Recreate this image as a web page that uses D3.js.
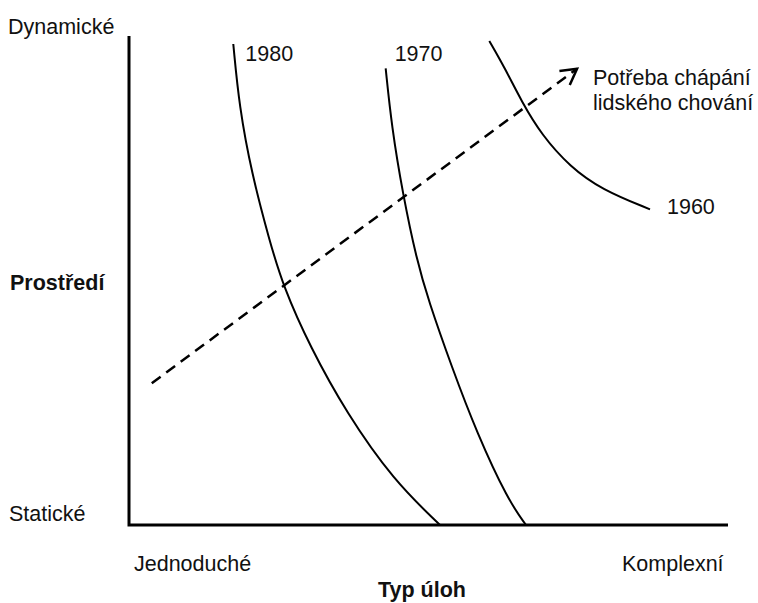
<!DOCTYPE html>
<html lang="cs">
<head>
<meta charset="UTF-8">
<title>Prostředí a typ úloh</title>
<script src="https://cdnjs.cloudflare.com/ajax/libs/d3/7.8.5/d3.min.js"></script>
<style>
  body { margin: 0; background: #fff; }
  text { font-family: "Liberation Sans", Arial, sans-serif; font-size: 21.5px; fill: #111; }
  .bold { font-weight: bold; }
  .curve { fill: none; stroke: #000; stroke-width: 2; }
</style>
</head>
<body>
<div id="chart"></div>
<script>
var width = 758, height = 603;

// curves in abstract units: x = complexity of tasks (0..100), y = dynamism of environment (0..100)
var years = ["1980", "1970", "1960"];
var curve1980 = [[17.41, 98.36], [18.41, 85.54], [20.48, 71.92], [23.42, 58.28], [25.76, 48.73],
                 [30.22, 36.46], [36.34, 22.84], [44.12, 9.20], [51.92, 0]];
var curve1970 = [[42.85, 93.39], [43.86, 81.45], [45.69, 67.83], [48.03, 54.19], [49.97, 46.01],
                 [53.87, 32.35], [58.10, 18.75], [63.27, 5.11], [66.28, 0]];
var curve1960 = [[60.15, 98.98], [62.77, 93.39], [65.56, 86.56], [68.90, 79.75], [73.60, 73.30],
                 [78.90, 68.60], [86.98, 64.56]];
var trend = [[3.8, 29.0], [74.8, 93.3]];

var yLabels = ["Statické", "Dynamické"];
var xLabels = ["Jednoduché", "Komplexní"];

var svg = d3.select("#chart").append("svg")
    .attr("width", width)
    .attr("height", height);

var x = d3.scaleLinear().domain([0, 100]).range([129, 728]);
var y = d3.scaleLinear().domain([0, 100]).range([525, 36]);

var line = d3.line()
    .x(function(d) { return x(d[0]); })
    .y(function(d) { return y(d[1]); })
    .curve(d3.curveBasis);

// axes as plain lines
svg.append("path")
    .attr("d", "M" + x(0) + "," + y(100) + "V" + y(0) + "H" + x(100))
    .attr("fill", "none")
    .attr("stroke", "#000")
    .attr("stroke-width", 3);

svg.append("defs").append("marker")
    .attr("id", "arrow")
    .attr("markerUnits", "userSpaceOnUse")
    .attr("viewBox", "-20 -12 24 24")
    .attr("markerWidth", 24)
    .attr("markerHeight", 24)
    .attr("refX", 0)
    .attr("refY", 0)
    .attr("orient", "auto")
  .append("path")
    .attr("d", "M-15.5,-8.7L0,0L-15.5,8.7")
    .attr("fill", "none")
    .attr("stroke", "#000")
    .attr("stroke-width", 2.5);

var curves = [curve1980, curve1970, curve1960];
svg.selectAll(".curve")
    .data(curves)
    .enter().append("path")
      .attr("class", "curve")
      .attr("d", line);

svg.append("path")
    .attr("d", d3.line().x(function(d) { return x(d[0]); }).y(function(d) { return y(d[1]); })(trend))
    .attr("fill", "none")
    .attr("stroke", "#000")
    .attr("stroke-width", 2.5)
    .attr("stroke-dasharray", "11,7")
    .attr("marker-end", "url(#arrow)");

// year labels next to curve ends
svg.append("text").attr("x", x(curve1980[0][0]) + 12).attr("y", 61).text(years[0]);
svg.append("text").attr("x", x(curve1970[0][0]) + 9).attr("y", 61).text(years[1]);
svg.append("text").attr("x", x(curve1960[curve1960.length - 1][0]) + 17).attr("y", 214).text(years[2]);

svg.append("text").attr("x", 593).attr("y", 85).text("Potřeba chápání");
svg.append("text").attr("x", 593).attr("y", 110).text("lidského chování");

svg.append("text").attr("x", 8).attr("y", 34).text(yLabels[1]);
svg.append("text").attr("x", 9).attr("y", 521).text(yLabels[0]);
svg.append("text").attr("class", "bold").attr("x", 10).attr("y", 290).text("Prostředí");

svg.append("text").attr("x", 134).attr("y", 571).text(xLabels[0]);
svg.append("text").attr("x", 622).attr("y", 571).text(xLabels[1]);
svg.append("text").attr("class", "bold").attr("x", 378).attr("y", 597).text("Typ úloh");
</script>
</body>
</html>
